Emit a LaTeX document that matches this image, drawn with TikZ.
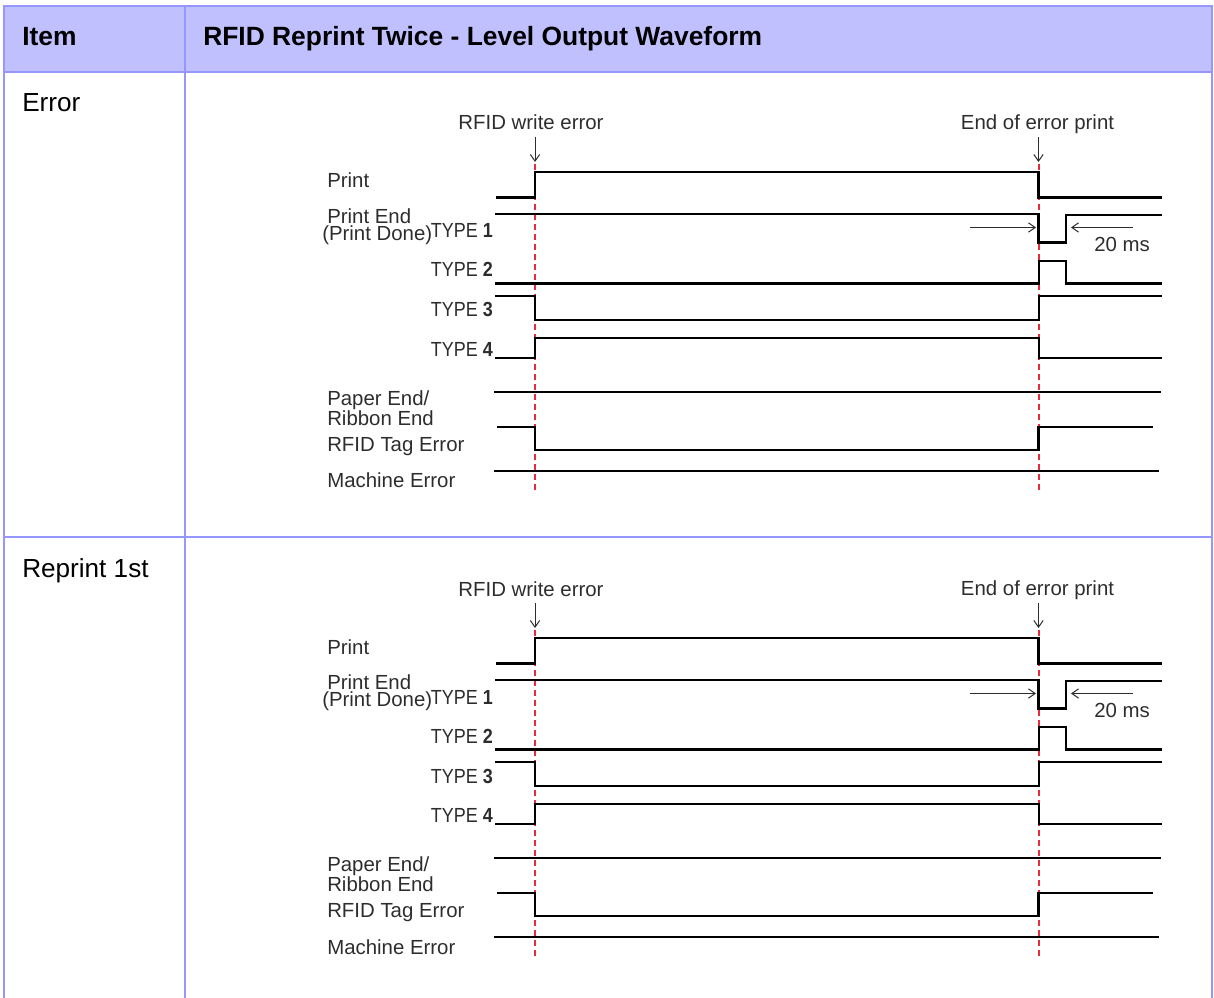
\documentclass[tikz,border=0pt]{standalone}
\usepackage{fontspec}
\setmainfont{Liberation Sans}
\usetikzlibrary{arrows.meta}
\definecolor{tblborder}{RGB}{150,150,255}
\definecolor{tblhead}{RGB}{192,192,255}
\definecolor{dashred}{RGB}{235,40,60}
\definecolor{wtext}{RGB}{45,45,45}
\tikzset{
  sig/.style={line width=2pt, line join=miter, line cap=rect},
  marker/.style={dashred, line width=1.5pt, dash pattern=on 4.5pt off 3pt},
  evarrow/.style={wtext, line width=0.75pt, -{Straight Barb[length=5pt,width=7pt]}},
  lbl/.style={font=\fontsize{15.3}{12.8}\selectfont, text=wtext, inner sep=0pt, anchor=base west},
  lblr/.style={lbl, anchor=base east},
  lblc/.style={lbl, anchor=base},
  cellhead/.style={font=\fontsize{19.8}{22}\selectfont\bfseries, inner sep=0pt, anchor=base west},
  cell/.style={font=\fontsize{19.6}{22}\selectfont, inner sep=0pt, anchor=base west},
  gridline/.style={tblborder, line width=1.6pt},
}
\newcommand{\typelbl}[1]{\scalebox{0.88}[1]{TYPE \textbf{#1}}}
\begin{document}
\begin{tikzpicture}[x=0.75pt, y=-0.75pt]
\useasboundingbox (0,0) rectangle (1214,998);
% table
\fill[tblhead] (4,6) rectangle (1212,72);
\draw[gridline] (4,998) -- (4,6) -- (1212,6) -- (1212,998);
\draw[gridline] (4,72) -- (1212,72);
\draw[gridline] (4,537) -- (1212,537);
\draw[gridline] (185,6) -- (185,998);
\node[cellhead] (hitem) at (22,45.5) {Item};
\node[cellhead] (hwave) at (203,45.5) {RFID Reprint Twice - Level Output Waveform};
\node[cell] (rerr) at (22,111.5) {Error};
\node[cell] (rrep) at (22,577) {Reprint 1st};
% waveform panels
\foreach \pre/\oy in {a/0,b/466}{
\begin{scope}[shift={(0,\oy)}, name prefix=\pre-]
  \node[lblc] (ev1) at (531,130) {RFID write error};
  \node[lblc] (ev2) at (1037.5,129.5) {End of error print};
  \coordinate (ev1top) at (535,137);
  \coordinate (ev1bot) at (535,162);
  \coordinate (ev2top) at (1038.5,137);
  \coordinate (ev2bot) at (1038.5,162);
  \draw[evarrow] (ev1top) -- (ev1bot);
  \draw[evarrow] (ev2top) -- (ev2bot);
  \coordinate (m1t) at (535,164);
  \coordinate (m1b) at (535,492);
  \coordinate (m2t) at (1038.5,164);
  \coordinate (m2b) at (1038.5,492);
  \draw[marker] (m1t) -- (m1b);
  \draw[marker] (m2t) -- (m2b);
  % labels
  \node[lbl] (lprint) at (327,188) {Print};
  \node[lbl, align=left, anchor=north west] (lpe) at (327,208.5) {Print End\\\hspace*{-3.75pt}(Print Done)};
  \node[lblr] (lt1) at (493,238) {\typelbl{1}};
  \node[lblr] (lt2) at (493,277) {\typelbl{2}};
  \node[lblr] (lt3) at (493,317) {\typelbl{3}};
  \node[lblr] (lt4) at (493,356.5) {\typelbl{4}};
  \node[lbl, align=left, anchor=north west] (lpap) at (327,390.5) {Paper End/\\Ribbon End};
  \node[lbl] (ltag) at (327,451) {RFID Tag Error};
  \node[lbl] (lmac) at (327,488) {Machine Error};
  % signals
  \draw[sig] (497,197.5) -- (535,197.5) -- (535,172) -- (1038.5,172) -- (1038.5,197.5) -- (1161,197.5);
  \draw[sig] (496,214) -- (1038.5,214) -- (1038.5,242.5) -- (1066,242.5) -- (1066,215) -- (1161,215);
  \draw[sig] (496,283.5) -- (1039,283.5) -- (1039,261) -- (1066,261) -- (1066,283.5) -- (1161,283.5);
  \draw[sig] (496,296) -- (535,296) -- (535,320) -- (1039,320) -- (1039,296) -- (1161,296);
  \draw[sig] (496,358) -- (535,358) -- (535,338) -- (1039,338) -- (1039,358) -- (1161,358);
  \draw[sig] (495,392) -- (1160,392);
  \draw[sig] (498,427) -- (535,427) -- (535,450) -- (1038.5,450) -- (1038.5,427) -- (1152,427);
  \draw[sig] (495,471) -- (1158,471);
  % 20 ms
  \coordinate (wl) at (970,227.5);
  \coordinate (wlh) at (1036,227.5);
  \coordinate (wr) at (1133,227.5);
  \coordinate (wrh) at (1071,227.5);
  \draw[evarrow] (wl) -- (wlh);
  \draw[evarrow] (wr) -- (wrh);
  \node[lbl] (lms) at (1094,251.5) {20 ms};
\end{scope}
}
\end{tikzpicture}
\end{document}
